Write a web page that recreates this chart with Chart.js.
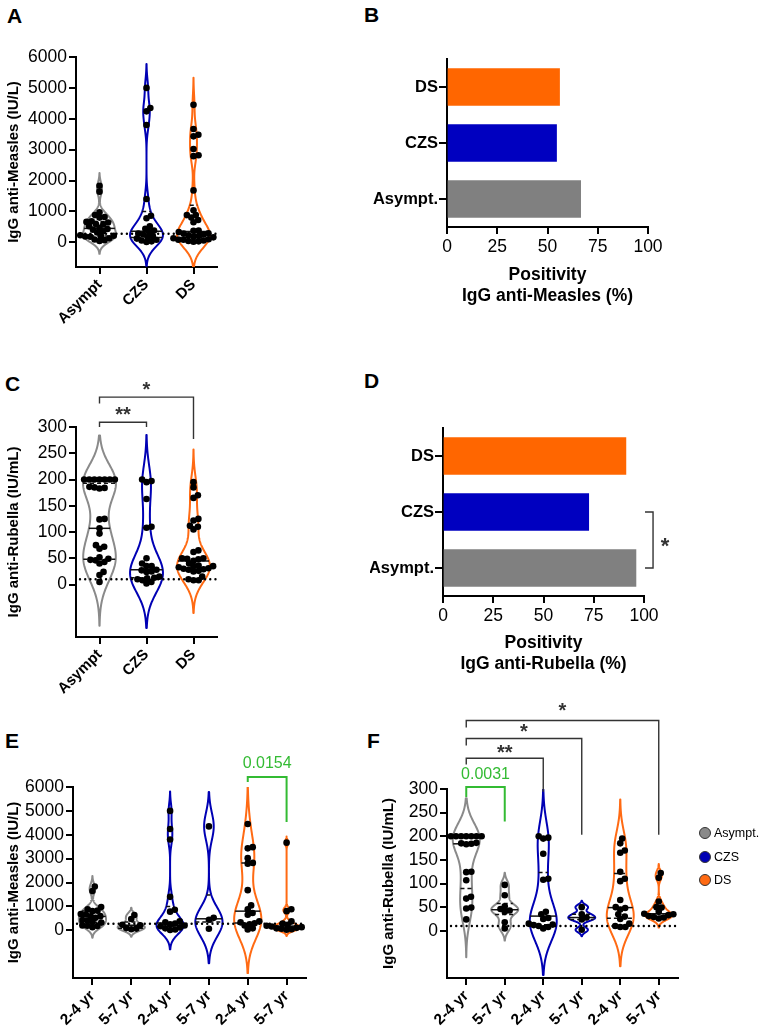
<!DOCTYPE html>
<html><head><meta charset="utf-8">
<script src="https://cdn.jsdelivr.net/npm/chart.js@4.4.0/dist/chart.umd.min.js"></script>
<style>
html,body{margin:0;padding:0;background:#fff;}
body{width:759px;height:1030px;position:relative;overflow:hidden;font-family:'Liberation Sans',Arial,sans-serif;color:#000;}
canvas{position:absolute;}
.lbl{position:absolute;font-weight:bold;font-size:21px;line-height:1;}
.leg{position:absolute;font-size:12.5px;display:flex;align-items:center;height:14px;line-height:14px;white-space:nowrap;}
.dot{display:inline-block;width:12px;height:12px;border-radius:50%;border:1px solid #333;box-sizing:border-box;margin-right:3px;}
</style></head><body>
<div class="lbl" style="left:7px;top:5px">A</div>
<div class="lbl" style="left:364px;top:4px">B</div>
<div class="lbl" style="left:5px;top:373px">C</div>
<div class="lbl" style="left:364px;top:370px">D</div>
<div class="lbl" style="left:5px;top:730px">E</div>
<div class="lbl" style="left:367px;top:730px">F</div>

<canvas id="cA" width="230" height="340" style="left:0;top:0"></canvas>
<canvas id="cB" width="389" height="320" style="left:370px;top:0"></canvas>
<canvas id="cC" width="230" height="380" style="left:0;top:340px"></canvas>
<canvas id="cD" width="389" height="340" style="left:370px;top:340px"></canvas>
<canvas id="cE" width="375" height="315" style="left:0;top:715px"></canvas>
<canvas id="cF" width="384" height="350" style="left:375px;top:680px"></canvas>

<div class="leg" style="left:699px;top:826px"><span class="dot" style="background:#8a8a8a"></span>Asympt.</div>
<div class="leg" style="left:699px;top:850px"><span class="dot" style="background:#0000b4"></span>CZS</div>
<div class="leg" style="left:699px;top:873px"><span class="dot" style="background:#ff6a13"></span>DS</div>

<script>
// ---------------- DATA ----------------
const groups = ['Asympt', 'CZS', 'DS'];
const barLabels = ['Asympt.', 'CZS', 'DS'];
const ageLabels = ['2-4 yr', '5-7 yr'];

// IgG anti-Measles (IU/L), by group and age
const measlesAsympt24 = [1830, 1640, 970, 880, 820, 800, 680, 660, 590, 580, 520, 430, 410, 350, 320, 200, 190, 180, 130];
const measlesAsympt57 = [640, 470, 230, 210, 90, 70, 40];
const measlesCZS24 = [5000, 4240, 3800, 1400, 860, 780, 380, 330, 280, 250, 200, 170, 120, 80, 30, 10];
const measlesCZS57 = [4350, 520, 440, 60];
const measlesDS24 = [4450, 3480, 3430, 3020, 2820, 2790, 1680, 1040, 880, 720, 650, 380, 330, 290, 250, 200, 80, 30];
const measlesDS57 = [3670, 880, 800, 370, 280, 230, 190, 160, 130, 100, 80, 60, 40, 20];

// IgG anti-Rubella (IU/mL), by group and age
const rubellaAsympt24 = [200, 200, 200, 200, 200, 200, 200, 186, 185, 184, 183, 125, 124, 107, 72, 68, 49, 47, 24];
const rubellaAsympt57 = [97, 75, 52, 46, 43, 40, 18, 5];
const rubellaCZS24 = [200, 197, 195, 163, 110, 108, 40, 35, 27, 25, 15, 13, 12, 10, 8, 5];
const rubellaCZS57 = [50, 35, 28, 24, 2];
const rubellaDS24 = [195, 185, 170, 165, 125, 110, 105, 65, 50, 48, 45, 35, 30, 25, 15, 10, 8, 8];
const rubellaDS57 = [122, 112, 62, 50, 49, 40, 36, 35, 33, 31, 29, 28, 26];

// Positivity (%) order: Asympt., CZS, DS
const positivityMeasles = [66.5, 54.5, 56];
const positivityRubella = [96, 72.5, 91];

// Tick labels
const measlesTicks = [0, 1000, 2000, 3000, 4000, 5000, 6000];
const rubellaTicks = [0, 50, 100, 150, 200, 250, 300];
const percentTicks = [0, 25, 50, 75, 100];

// Cut-off (dotted line)
const measlesCutoff = 275;
const rubellaCutoff = 10;

// ---------------- STYLE ----------------
const FONT = "'Liberation Sans', Arial, sans-serif";
Chart.defaults.font.family = FONT;
Chart.defaults.color = '#000';
Chart.defaults.animation = false;
const GRAY = '#8a8a8a', BLUE = '#0000b4', ORANGE = '#ff6a13';
const BAR_COLORS = ['#808080', '#0000c0', '#ff6600'];
const GREEN = '#33bb33';

function sortAsc(a) { return a.slice().sort((x, y) => x - y); }
function quantile(s, p) {
  const pos = (s.length - 1) * p, lo = Math.floor(pos), hi = Math.ceil(pos);
  return s[lo] + (s[hi] - s[lo]) * (pos - lo);
}
function bandwidth(s) {
  const n = s.length, mean = s.reduce((a, b) => a + b, 0) / n;
  const sd = Math.sqrt(s.reduce((a, b) => a + (b - mean) ** 2, 0) / (n - 1));
  const iqr = quantile(s, 0.75) - quantile(s, 0.25);
  let m = Math.min(sd, iqr / 1.34);
  if (!(m > 0)) m = sd || 1;
  return 0.9 * m * Math.pow(n, -0.2);
}
function kde(s, h, v) { let d = 0; for (const x of s) d += Math.exp(-0.5 * ((v - x) / h) ** 2); return d; }

function makeViolinPlugin(groupValues, colors, cutoff) {
  return {
    id: 'violins',
    beforeDatasetsDraw(chart) {
      const { ctx, chartArea: ca, scales: { x, y } } = chart;
      ctx.save();
      ctx.beginPath(); ctx.rect(ca.left, ca.top, ca.width, ca.height); ctx.clip();
      const spacing = x.getPixelForValue(1) - x.getPixelForValue(0);
      const maxHalf = spacing * 0.35;
      groupValues.forEach((vals, i) => {
        const s = sortAsc(vals), h = bandwidth(s);
        const lo = s[0] - 2.5 * h, hi = s[s.length - 1] + 2.5 * h;
        const N = 200, pts = []; let dmax = 0;
        for (let k = 0; k <= N; k++) { const v = lo + (hi - lo) * k / N, d = kde(s, h, v); pts.push([v, d]); if (d > dmax) dmax = d; }
        const cx = x.getPixelForValue(i);
        const hw = d => d / dmax * maxHalf;
        ctx.beginPath();
        pts.forEach(([v, d], k) => { const px = cx + hw(d), py = y.getPixelForValue(v); k ? ctx.lineTo(px, py) : ctx.moveTo(px, py); });
        for (let k = N; k >= 0; k--) { const [v, d] = pts[k]; ctx.lineTo(cx - hw(d), y.getPixelForValue(v)); }
        ctx.closePath();
        ctx.lineWidth = 2; ctx.strokeStyle = colors[i]; ctx.lineJoin = 'round'; ctx.stroke();
        [[0.25, true], [0.5, false], [0.75, true]].forEach(([p, dash]) => {
          const q = quantile(s, p), w = hw(kde(s, h, q)), py = y.getPixelForValue(q);
          ctx.beginPath(); ctx.setLineDash(dash ? [4, 3] : []);
          ctx.lineWidth = 1.5; ctx.strokeStyle = '#111';
          ctx.moveTo(cx - w, py); ctx.lineTo(cx + w, py); ctx.stroke();
        });
        ctx.setLineDash([]);
      });
      const yp = y.getPixelForValue(cutoff);
      ctx.beginPath(); ctx.setLineDash([0.01, 5.2]); ctx.lineCap = 'round'; ctx.lineWidth = 2.4; ctx.strokeStyle = '#000';
      ctx.moveTo(ca.left + 4, yp); ctx.lineTo(ca.right, yp); ctx.stroke();
      ctx.restore();
    }
  };
}

// bracket items drawn through the chart scales
function makeBracketPlugin(items) {
  return {
    id: 'brackets',
    afterDraw(chart) {
      const { ctx, scales: { x, y } } = chart;
      ctx.save();
      items.forEach(b => {
        ctx.strokeStyle = b.color; ctx.fillStyle = b.color; ctx.lineWidth = b.lw || 1.4;
        if (b.horizontal) {
          const xp = x.getPixelForValue(b.x), xl = x.getPixelForValue(b.leg);
          const y1 = y.getPixelForValue(b.c1), y2 = y.getPixelForValue(b.c2);
          ctx.beginPath(); ctx.moveTo(xl, y1); ctx.lineTo(xp, y1); ctx.lineTo(xp, y2); ctx.lineTo(xl, y2); ctx.stroke();
          ctx.font = `bold ${b.size}px ${FONT}`; ctx.textAlign = 'center'; ctx.textBaseline = 'alphabetic';
          const ty = (y1 + y2) / 2 + b.size * 0.58;
          ctx.fillText(b.text, x.getPixelForValue(b.tx), ty);
          return;
        }
        const x1 = x.getPixelForValue(b.x1), x2 = x.getPixelForValue(b.x2);
        const yl = y.getPixelForValue(b.y);
        ctx.beginPath();
        ctx.moveTo(x1, y.getPixelForValue(b.leg1)); ctx.lineTo(x1, yl); ctx.lineTo(x2, yl); ctx.lineTo(x2, y.getPixelForValue(b.leg2));
        ctx.stroke();
        ctx.font = `${b.star ? 'bold ' : ''}${b.size}px ${FONT}`; ctx.textAlign = 'center'; ctx.textBaseline = 'alphabetic';
        const tc = y.getPixelForValue(b.ty);
        ctx.fillText(b.text, (x1 + x2) / 2, tc + b.size * (b.star ? 0.58 : 0.36));
      });
      ctx.restore();
    }
  };
}

const axisLine = { display: true, color: '#000', width: 2 };
const tickGrid = { drawOnChartArea: false, drawTicks: true, tickLength: 7, color: '#000', lineWidth: 2 };

function valueAxis(ticksArr, min, title, width) {
  return {
    type: 'linear', min: min, max: ticksArr[ticksArr.length - 1],
    afterBuildTicks: s => { s.ticks = ticksArr.map(v => ({ value: v })); },
    ticks: { font: { size: 17.5 }, padding: 2, color: '#000', callback: v => String(v) },
    grid: tickGrid, border: axisLine,
    title: { display: true, text: title, color: '#000', font: { size: 15, weight: 'bold' }, padding: { top: 5, bottom: 0 } },
    afterFit: s => { s.width = width; }
  };
}
function catAxis(labels, height, fsize) {
  return {
    type: 'linear', min: -0.5, max: labels.length - 0.5,
    afterBuildTicks: s => { s.ticks = labels.map((_, i) => ({ value: i })); },
    ticks: { autoSkip: false, minRotation: 45, maxRotation: 45, padding: 2, color: '#000', font: { size: fsize, weight: 'bold' }, callback: v => labels[v] },
    grid: tickGrid, border: axisLine,
    afterFit: s => { s.height = height; }
  };
}

function applySwarm(chart, groupValues, radius) {
  const xs = chart.scales.x, ys = chart.scales.y;
  const unit = xs.getPixelForValue(1) - xs.getPixelForValue(0);
  const D = radius * 1.55;
  const data = [];
  groupValues.forEach((vals, gi) => {
    const placed = [];
    sortAsc(vals).forEach(v => {
      const py = ys.getPixelForValue(v);
      const cands = [0];
      placed.forEach(p => {
        const dy = Math.abs(p.py - py);
        if (dy < D) { const dx = Math.sqrt(D * D - dy * dy); cands.push(p.dx + dx, p.dx - dx); }
      });
      cands.sort((a, b) => Math.abs(a) - Math.abs(b));
      let best = 0;
      for (const c of cands) {
        if (placed.every(p => (p.dx - c) ** 2 + (p.py - py) ** 2 >= D * D - 0.01)) { best = c; break; }
      }
      placed.push({ dx: best, py });
      data.push({ x: gi + best / unit, y: v });
    });
  });
  chart.data.datasets[0].data = data;
  chart.update('none');
}

function violinChart(id, cfg) {
  const chart = new Chart(document.getElementById(id), {
    type: 'scatter',
    data: { datasets: [{ data: [], backgroundColor: '#000', borderColor: '#000', pointRadius: 3.3, pointHoverRadius: 3.3, borderWidth: 0 }] },
    options: {
      responsive: false, animation: false,
      layout: { padding: cfg.padding },
      plugins: { legend: { display: false }, tooltip: { enabled: false } },
      scales: { x: catAxis(cfg.labels, cfg.xHeight, cfg.labelSize), y: valueAxis(cfg.ticks, cfg.min, cfg.title, cfg.yWidth) }
    },
    plugins: [makeViolinPlugin(cfg.groups, cfg.colors, cfg.cutoff), makeBracketPlugin(cfg.brackets || [])]
  });
  applySwarm(chart, cfg.groups, 3.3);
  return chart;
}

function barChart(id, cfg) {
  return new Chart(document.getElementById(id), {
    type: 'bar',
    data: { labels: barLabels, datasets: [{ data: cfg.values, backgroundColor: BAR_COLORS, borderWidth: 0, barThickness: 37 }] },
    options: {
      indexAxis: 'y', responsive: false, animation: false,
      layout: { padding: cfg.padding },
      plugins: { legend: { display: false }, tooltip: { enabled: false } },
      scales: {
        y: {
          type: 'category', reverse: true,
          ticks: { font: { size: 16.5, weight: 'bold' }, padding: 1, color: '#000' },
          grid: { ...tickGrid, offset: false, tickLength: 8 }, border: axisLine,
          afterFit: s => { s.width = cfg.yWidth; }
        },
        x: {
          type: 'linear', min: 0, max: 100,
          afterBuildTicks: s => { s.ticks = percentTicks.map(v => ({ value: v })); },
          ticks: { font: { size: 17.5 }, padding: 3, color: '#000', callback: v => String(v) },
          grid: tickGrid, border: axisLine,
          title: { display: true, text: cfg.title, color: '#000', font: { size: 17.5, weight: 'bold' }, padding: { top: 4, bottom: cfg.titleBottom } },
          afterFit: s => { s.height = cfg.xHeight; }
        }
      }
    },
    plugins: [makeBracketPlugin(cfg.brackets || [])]
  });
}

const ageCatLabels = [].concat(...groups.map(() => ageLabels));
const BR = '#333';

// A
violinChart('cA', {
  labels: groups, labelSize: 15, xHeight: 73, yWidth: 76,
  padding: { top: 57, right: 13, bottom: 0, left: 0 },
  ticks: measlesTicks, min: -800, title: 'IgG anti-Measles (IU/L)', cutoff: measlesCutoff,
  groups: [measlesAsympt24.concat(measlesAsympt57), measlesCZS24.concat(measlesCZS57), measlesDS24.concat(measlesDS57)],
  colors: [GRAY, BLUE, ORANGE]
});
// B
barChart('cB', {
  values: positivityMeasles, yWidth: 77, xHeight: 93, titleBottom: 13,
  padding: { top: 59, right: 111, bottom: 0, left: 0 },
  title: ['Positivity', 'IgG anti-Measles (%)']
});
// C
violinChart('cC', {
  labels: groups, labelSize: 15, xHeight: 83, yWidth: 76,
  padding: { top: 87, right: 13, bottom: 0, left: 0 },
  ticks: rubellaTicks, min: -100, title: 'IgG anti-Rubella (IU/mL)', cutoff: rubellaCutoff,
  groups: [rubellaAsympt24.concat(rubellaAsympt57), rubellaCZS24.concat(rubellaCZS57), rubellaDS24.concat(rubellaDS57)],
  colors: [GRAY, BLUE, ORANGE],
  brackets: [
    { x1: 0, x2: 1, y: 309, leg1: 300, leg2: 300, text: '**', ty: 334, color: BR, size: 20, star: true },
    { x1: 0, x2: 2, y: 357, leg1: 345, leg2: 277, text: '*', ty: 381, color: BR, size: 20, star: true }
  ]
});
// D
barChart('cD', {
  values: positivityRubella, yWidth: 73, xHeight: 84, titleBottom: 5,
  padding: { top: 88, right: 115, bottom: 0, left: 0 },
  title: ['Positivity', 'IgG anti-Rubella (%)'],
  brackets: [{ horizontal: true, x: 104.5, leg: 100.5, c1: 1, c2: 0, text: '*', tx: 110.5, color: BR, size: 22, star: true }]
});
// E
violinChart('cE', {
  labels: ageCatLabels, labelSize: 15.5, xHeight: 52, yWidth: 73,
  padding: { top: 72, right: 69, bottom: 0, left: 0 },
  ticks: measlesTicks, min: -2000, title: 'IgG anti-Measles (IU/L)', cutoff: measlesCutoff,
  groups: [measlesAsympt24, measlesAsympt57, measlesCZS24, measlesCZS57, measlesDS24, measlesDS57],
  colors: [GRAY, GRAY, BLUE, BLUE, ORANGE, ORANGE],
  brackets: [{ x1: 4, x2: 5, y: 6420, leg1: 6210, leg2: 4530, text: '0.0154', ty: 7050, color: GREEN, size: 16, lw: 2 }]
});
// F
violinChart('cF', {
  labels: ageCatLabels, labelSize: 15.5, xHeight: 52, yWidth: 72,
  padding: { top: 109, right: 81, bottom: 0, left: 0 },
  ticks: rubellaTicks, min: -100, title: 'IgG anti-Rubella (IU/mL)', cutoff: rubellaCutoff,
  groups: [rubellaAsympt24, rubellaAsympt57, rubellaCZS24, rubellaCZS57, rubellaDS24, rubellaDS57],
  colors: [GRAY, GRAY, BLUE, BLUE, ORANGE, ORANGE],
  brackets: [
    { x1: 0, x2: 5, y: 445, leg1: 430, leg2: 203, text: '*', ty: 476, color: BR, size: 20, star: true },
    { x1: 0, x2: 3, y: 407, leg1: 392, leg2: 203, text: '*', ty: 432, color: BR, size: 20, star: true },
    { x1: 0, x2: 2, y: 365, leg1: 352, leg2: 294, text: '**', ty: 388, color: BR, size: 20, star: true },
    { x1: 0, x2: 1, y: 304, leg1: 283, leg2: 231, text: '0.0031', ty: 334, color: GREEN, size: 16, lw: 2 }
  ]
});
</script>
</body></html>
